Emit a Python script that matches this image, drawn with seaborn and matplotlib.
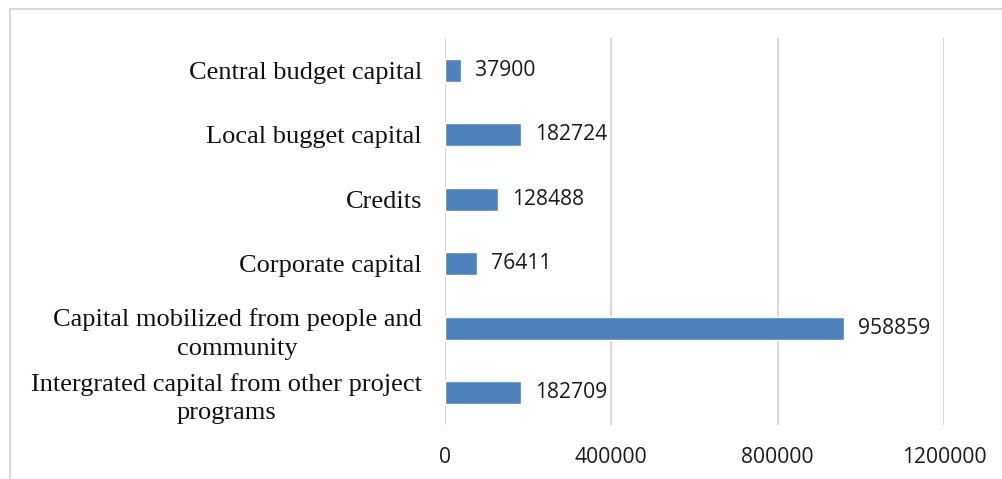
import matplotlib
matplotlib.use("Agg")
import matplotlib.pyplot as plt
import seaborn as sns
import pandas as pd
from matplotlib.patches import Rectangle

categories = [
    "Central budget capital",
    "Local bugget capital",
    "Credits",
    "Corporate capital",
    "Capital mobilized from people and\ncommunity",
    "Intergrated capital from other project\nprograms",
]
values = [37900, 182724, 128488, 76411, 958859, 182709]
xticks = [0, 400000, 800000, 1200000]

df = pd.DataFrame({"category": categories, "value": values})

sns.set_theme(style="white")
fig = plt.figure(figsize=(10.03, 4.79), dpi=100)
ax = fig.add_axes([445 / 1003, 1 - 425 / 479, (944 - 445) / 1003, (425 - 38) / 479])

sns.barplot(data=df, y="category", x="value", orient="h", color="#4F81BD",
            width=0.36, saturation=1, ax=ax, zorder=3)

ax.set_xlim(0, 1200000)
ax.set_ylim(5.5, -0.5)
ax.set_xticks(xticks)
ax.set_xticklabels([str(t) for t in xticks], family="Open Sans", fontsize=15.2, color="#1a1a1a")
ax.set_yticks(range(len(categories)))
ax.set_yticklabels(categories, family="Liberation Serif", fontsize=19, color="#111111",
                   multialignment="center", linespacing=1.38)
ax.tick_params(axis="y", length=0, pad=16.5)
ax.tick_params(axis="x", length=0, pad=15.5)
ax.set_xlabel("")
ax.set_ylabel("")
for s in ax.spines.values():
    s.set_visible(False)
ax.grid(axis="x", color="#D9D9D9", linewidth=1.5, zorder=0)
ax.set_axisbelow(True)

for i, v in enumerate(values):
    ax.annotate(str(v), xy=(v, i), xytext=(10, 0), textcoords="offset points",
                va="center", ha="left", family="Open Sans", fontsize=15.2, color="#1a1a1a")

fig.patches.append(Rectangle((10 / 1003, -0.05), 1.1, 1 - 9 / 479 + 0.05,
                             transform=fig.transFigure, fill=False,
                             edgecolor="#D9D9D9", linewidth=1.5))

fig.savefig("out.png", dpi=100)
